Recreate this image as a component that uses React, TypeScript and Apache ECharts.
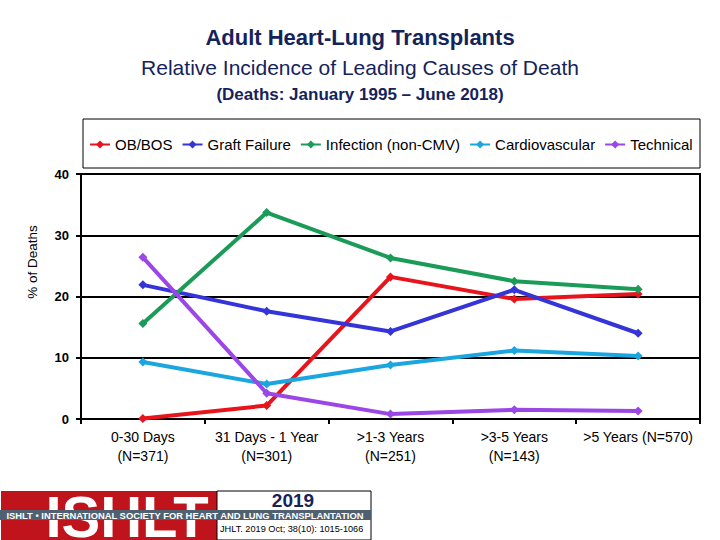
import React, { useEffect, useRef } from "react";
import * as echarts from "echarts";

const categories = [
  "0-30 Days\n(N=371)",
  "31 Days - 1 Year\n(N=301)",
  ">1-3 Years\n(N=251)",
  ">3-5 Years\n(N=143)",
  ">5 Years (N=570)",
];
const seriesNames = ["OB/BOS", "Graft Failure", "Infection (non-CMV)", "Cardiovascular", "Technical"];
const obBos = [0.1, 2.2, 23.2, 19.6, 20.4];
const graftFailure = [21.9, 17.6, 14.3, 21.1, 14.0];
const infection = [15.6, 33.7, 26.3, 22.5, 21.2];
const cardiovascular = [9.3, 5.7, 8.8, 11.2, 10.3];
const technical = [26.4, 4.2, 0.8, 1.5, 1.3];
const seriesColors = ["#e8141c", "#3434d8", "#1a9c58", "#1ba6e0", "#9b46e6"];
const yTicks = { min: 0, max: 40, interval: 10 };

const FONT = "'Liberation Sans', Arial, sans-serif";
const NAVY = "#15235b";

export default function App() {
  const ref = useRef<HTMLDivElement>(null);
  useEffect(() => {
    if (!ref.current) return;
    const chart = echarts.init(ref.current, undefined, { renderer: "svg" });
    const values = [obBos, graftFailure, infection, cardiovascular, technical];
    chart.setOption({
      animation: false,
      backgroundColor: "#ffffff",
      title: [
        {
          text: "Adult Heart-Lung Transplants",
          left: "center",
          top: 21,
          textStyle: { fontFamily: FONT, fontSize: 22, fontWeight: "bold", color: NAVY },
        },
        {
          text: "Relative Incidence of Leading Causes of Death",
          left: "center",
          top: 52,
          textStyle: { fontFamily: FONT, fontSize: 21, fontWeight: "normal", color: NAVY },
        },
        {
          text: "(Deaths: January 1995 \u2013 June 2018)",
          left: "center",
          top: 81,
          textStyle: { fontFamily: FONT, fontSize: 17, fontWeight: "bold", color: NAVY },
        },
      ],
      legend: {
        left: 84,
        top: 132,
        itemGap: 9,
        itemWidth: 20,
        itemHeight: 10,
        data: seriesNames,
        textStyle: { fontFamily: FONT, fontSize: 15, color: "#000" },
      },
      grid: {
        left: 81,
        right: 20,
        top: 174,
        bottom: 121,
        show: true,
        borderColor: "#000",
        borderWidth: 2,
      },
      xAxis: {
        type: "category",
        data: categories,
        boundaryGap: true,
        axisLine: { lineStyle: { color: "#000", width: 2 } },
        axisTick: { show: true, length: 5, lineStyle: { color: "#000", width: 2 } },
        axisLabel: {
          interval: 0,
          fontFamily: FONT,
          fontSize: 14,
          color: "#000",
          lineHeight: 19,
          margin: 8,
        },
      },
      yAxis: {
        type: "value",
        min: yTicks.min,
        max: yTicks.max,
        interval: yTicks.interval,
        axisLine: { show: true, lineStyle: { color: "#000", width: 2 } },
        axisTick: { show: true, length: 5, lineStyle: { color: "#000", width: 2 } },
        splitLine: { lineStyle: { color: "#000", width: 2 } },
        axisLabel: { fontFamily: FONT, fontSize: 13, fontWeight: "bold", color: "#000", margin: 12 },
      },
      series: seriesNames.map((name, i) => ({
        name,
        type: "line",
        data: values[i],
        symbol: "diamond",
        symbolSize: 9,
        lineStyle: { width: 4, color: seriesColors[i] },
        itemStyle: { color: seriesColors[i] },
      })),
      graphic: [
        {
          type: "rect",
          shape: { x: 83, y: 119, width: 617, height: 49 },
          style: { fill: "none", stroke: "#000", lineWidth: 1 },
        },
        {
          type: "text",
          x: 32,
          y: 262,
          rotation: Math.PI / 2,
          style: {
            text: "% of Deaths",
            fontFamily: FONT,
            fontSize: 13.5,
            fill: "#000",
            align: "center",
            verticalAlign: "middle",
          },
        },
        {
          type: "rect",
          shape: { x: 1, y: 491, width: 216, height: 49 },
          style: { fill: "#c0141c" },
        },
        {
          type: "text",
          x: 127,
          y: 516,
          style: {
            text: "ISHLT",
            fontFamily: FONT,
            fontSize: 58,
            fontWeight: "bold",
            fill: "#ffffff",
            align: "center",
            verticalAlign: "middle",
          },
        },
        {
          type: "rect",
          shape: { x: 217, y: 491, width: 154, height: 49 },
          style: { fill: "#ffffff", stroke: "#000", lineWidth: 1 },
        },
        {
          type: "rect",
          shape: { x: 0, y: 510, width: 371, height: 10 },
          style: { fill: "#4f6070" },
        },
        {
          type: "text",
          x: 185,
          y: 515,
          style: {
            text: "ISHLT \u2022 INTERNATIONAL SOCIETY FOR HEART AND LUNG TRANSPLANTATION",
            fontFamily: FONT,
            fontSize: 9.4,
            fontWeight: "bold",
            fill: "#ffffff",
            align: "center",
            verticalAlign: "middle",
          },
        },
        {
          type: "text",
          x: 293,
          y: 500,
          style: {
            text: "2019",
            fontFamily: FONT,
            fontSize: 19,
            fontWeight: "bold",
            fill: NAVY,
            align: "center",
            verticalAlign: "middle",
          },
        },
        {
          type: "text",
          x: 220,
          y: 529,
          style: {
            text: "JHLT. 2019 Oct; 38(10): 1015-1066",
            fontFamily: FONT,
            fontSize: 9.2,
            fill: "#000",
            align: "left",
            verticalAlign: "middle",
          },
        },
      ],
    });
    return () => chart.dispose();
  }, []);
  return (
    <div
      ref={ref}
      style={{ position: "absolute", left: 0, top: 0, width: 720, height: 540 }}
    />
  );
}
